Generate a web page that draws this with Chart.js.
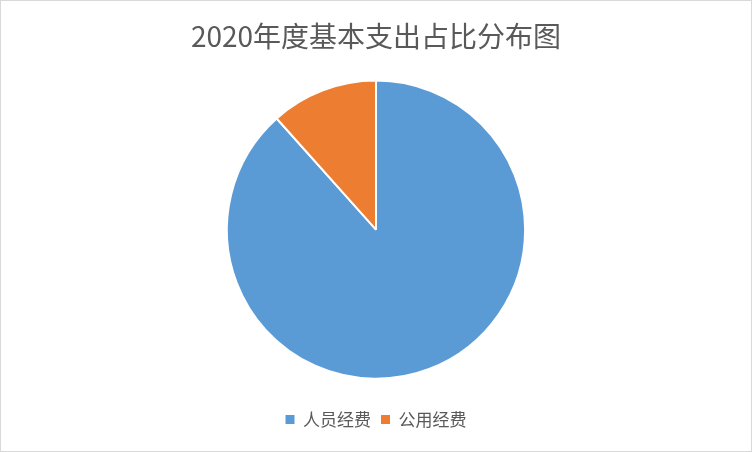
<!DOCTYPE html>
<html>
<head>
<meta charset="utf-8">
<script src="https://cdn.jsdelivr.net/npm/chart.js@4.4.1/dist/chart.umd.min.js"></script>
<style>
  html, body { margin: 0; padding: 0; background: #fff; }
  #wrap {
    width: 752px; height: 452px; box-sizing: border-box;
    border: 1px solid #d9d9d9; position: relative;
  }
</style>
</head>
<body>
<div id="wrap"><canvas id="pieChart"></canvas></div>
<script>
// 2020年度基本支出占比分布图
const categories = ["人员经费", "公用经费"];
const shares = [88.4, 11.6];
const sliceColors = ["#5B9BD5", "#ED7D31"];

const FONT = "'Noto Sans CJK SC', 'Noto Sans', sans-serif";

const ctx = document.getElementById("pieChart").getContext("2d");
const chart = new Chart(ctx, {
  type: "pie",
  data: {
    labels: categories,
    datasets: [
      {
        data: shares,
        backgroundColor: sliceColors,
        borderColor: "#ffffff",
        borderWidth: 2,
      }
    ]
  },
  options: {
    responsive: true,
    maintainAspectRatio: false,
    animation: false,
    layout: {
      padding: { top: 0, bottom: 13, left: 0, right: 0 }
    },
    plugins: {
      title: {
        display: true,
        text: "2020年度基本支出占比分布图",
        color: "#595959",
        font: { family: FONT, size: 28, weight: "normal" },
        padding: { top: 19, bottom: 26 }
      },
      legend: {
        position: "bottom",
        // empty legend title only used as a spacer above the items
        title: { display: true, text: "", padding: { top: 20, bottom: 0 }, font: { size: 1 } },
        labels: {
          color: "#595959",
          font: { family: FONT, size: 17 },
          boxWidth: 9,
          boxHeight: 9,
          padding: 10,
          generateLabels: (c) => {
            // default pie labels, but without the white slice border on the swatch
            const items = Chart.overrides.pie.plugins.legend.labels.generateLabels(c);
            items.forEach(it => { it.lineWidth = 0; });
            return items;
          }
        }
      },
      tooltip: { enabled: false }
    }
  }
});
</script>
</body>
</html>
